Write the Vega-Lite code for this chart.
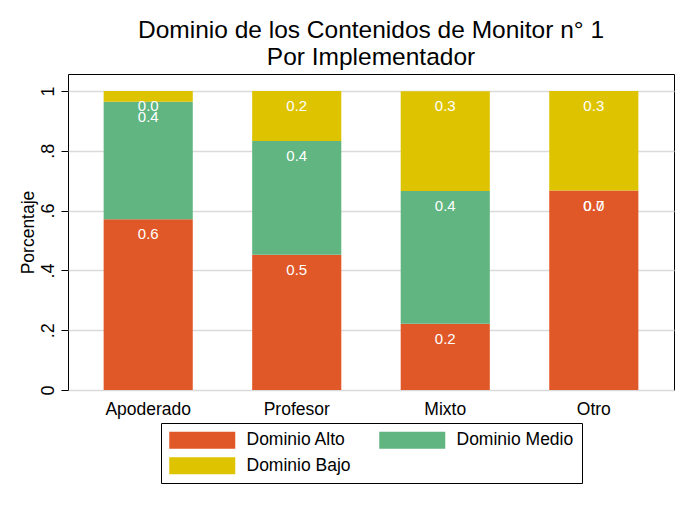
{
  "$schema": "https://vega.github.io/schema/vega-lite/v6.json",
  "width": 606,
  "height": 316,
  "autosize": {"type": "none"},
  "padding": {"left": 68, "top": 74, "right": 20, "bottom": 115},
  "background": "white",
  "config": {
    "font": "Liberation Sans",
    "view": {"stroke": "black", "strokeWidth": 1}
  },
  "title": {
    "text": ["Dominio de los Contenidos de Monitor n° 1", "Por Implementador"],
    "fontSize": 24.5,
    "fontWeight": "normal",
    "color": "black",
    "font": "Liberation Sans",
    "anchor": "middle",
    "lineHeight": 27,
    "offset": 4
  },
  "data": {
    "values": [
      {"implementador": "Apoderado", "nivel": "Dominio Alto", "valor": 0.571},
      {"implementador": "Apoderado", "nivel": "Dominio Medio", "valor": 0.393},
      {"implementador": "Apoderado", "nivel": "Dominio Bajo", "valor": 0.036},
      {"implementador": "Profesor", "nivel": "Dominio Alto", "valor": 0.452},
      {"implementador": "Profesor", "nivel": "Dominio Medio", "valor": 0.381},
      {"implementador": "Profesor", "nivel": "Dominio Bajo", "valor": 0.167},
      {"implementador": "Mixto", "nivel": "Dominio Alto", "valor": 0.222},
      {"implementador": "Mixto", "nivel": "Dominio Medio", "valor": 0.444},
      {"implementador": "Mixto", "nivel": "Dominio Bajo", "valor": 0.333},
      {"implementador": "Otro", "nivel": "Dominio Alto", "valor": 0.667},
      {"implementador": "Otro", "nivel": "Dominio Medio", "valor": 0.0},
      {"implementador": "Otro", "nivel": "Dominio Bajo", "valor": 0.333}
    ]
  },
  "transform": [
    {"calculate": "indexof(['Dominio Alto','Dominio Medio','Dominio Bajo'], datum.nivel)", "as": "orden"},
    {"stack": "valor", "groupby": ["implementador"], "sort": [{"field": "orden", "order": "ascending"}], "as": ["v0", "v1"]}
  ],
  "encoding": {
    "x": {
      "field": "implementador",
      "type": "nominal",
      "sort": ["Apoderado", "Profesor", "Mixto", "Otro"],
      "scale": {"paddingInner": 0.4, "paddingOuter": 0.24},
      "axis": {
        "title": null,
        "labelAngle": 0,
        "labelFontSize": 17.5,
        "labelColor": "black",
        "labelPadding": 10,
        "ticks": false,
        "domain": false
      }
    }
  },
  "layer": [
    {
      "mark": {"type": "bar"},
      "encoding": {
        "y": {
          "field": "v1",
          "type": "quantitative",
          "scale": {"domain": [0, 1.057], "nice": false, "zero": true},
          "axis": {
            "title": "Porcentaje",
            "titleFontSize": 17.5,
            "titleFontWeight": "normal",
            "titleColor": "black",
            "titlePadding": 2,
            "values": [0, 0.2, 0.4, 0.6, 0.8, 1],
            "labelExpr": "datum.value == 0 ? '0' : datum.value == 1 ? '1' : replace(format(datum.value, '.1f'), '0.', '.')",
            "labelAngle": 270,
            "labelAlign": "center",
            "labelBaseline": "alphabetic",
            "labelFontSize": 18,
            "labelColor": "black",
            "labelPadding": 8,
            "ticks": true,
            "tickSize": 7,
            "tickColor": "black",
            "domain": false,
            "grid": true,
            "gridColor": "#dadada",
            "gridWidth": 1.5
          }
        },
        "y2": {"field": "v0"},
        "color": {
          "field": "nivel",
          "type": "nominal",
          "scale": {
            "domain": ["Dominio Alto", "Dominio Medio", "Dominio Bajo"],
            "range": ["#E15828", "#60B580", "#DEC300"]
          },
          "legend": {
            "title": null,
            "orient": "none",
            "legendX": 93,
            "legendY": 349,
            "direction": "horizontal",
            "columns": 2,
            "columnPadding": 28,
            "rowPadding": 7,
            "padding": 8,
            "strokeColor": "black",
            "symbolType": "M-1,-1H6.765V1H-1Z",
            "symbolSize": 289,
            "symbolStrokeWidth": 0,
            "symbolOpacity": 1,
            "labelOffset": 60,
            "labelFontSize": 17.5,
            "labelColor": "black",
            "labelLimit": 300
          }
        }
      }
    },
    {
      "mark": {"type": "text", "color": "white", "fontSize": 15, "baseline": "alphabetic", "dy": 20},
      "encoding": {
        "y": {"field": "v1", "type": "quantitative"},
        "text": {"field": "valor", "type": "quantitative", "format": ".1f"}
      }
    }
  ]
}
